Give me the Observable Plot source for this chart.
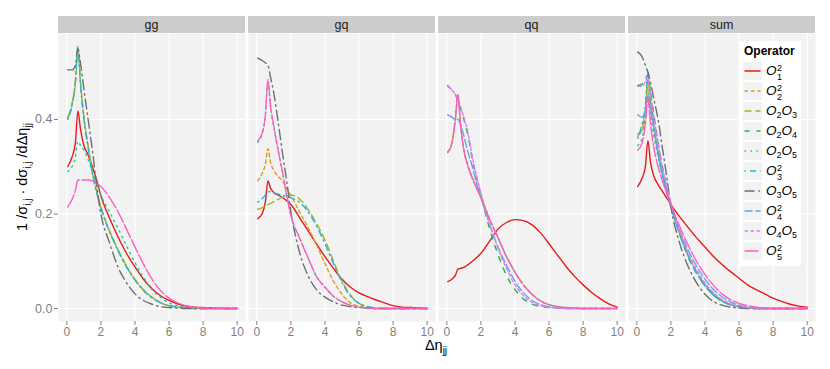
<!DOCTYPE html>
<html><head><meta charset="utf-8">
<script src="https://cdn.jsdelivr.net/npm/d3@7"></script>
<script src="https://cdn.jsdelivr.net/npm/@observablehq/plot@0.6"></script>
<style>
body{margin:0;background:#fff;font-family:"Liberation Sans",Arial,sans-serif;}
#wrap{position:relative;width:830px;height:369px;}
#legend{position:absolute;left:739px;top:41px;width:62px;height:225px;background:#fff;}
#legend .title{position:absolute;left:5px;top:3px;font-size:12px;font-weight:bold;color:#000;}
#legend .key{position:absolute;left:4px;width:19px;height:18px;background:#F2F2F2;}
#legend .lab{position:absolute;left:27px;font-size:13.5px;line-height:18px;white-space:nowrap;color:#000;}
.ss{display:inline-block;vertical-align:-5px;font-size:9px;line-height:8.5px;margin-left:0.5px;}
.ss span{display:block;}
.lab sub{font-size:9px;vertical-align:-3px;line-height:0;}
</style></head><body><div id="wrap"></div><script>
// ---- data ----
const facets = ["gg", "gq", "qq", "sum"];
const operators = ["O1O1", "O2O2", "O2O3", "O2O4", "O2O5", "O3O3", "O3O5", "O4O4", "O4O5", "O5O5"];
const xs = [0.05,0.3,0.5,0.65,0.8,1,1.25,1.5,1.75,2,2.5,3,3.5,4,4.5,5,5.5,6,6.5,7,7.5,8,8.5,9,9.5,10];
const xTicks = [0, 2, 4, 6, 8, 10];
const yTicks = [0, 0.2, 0.4];

// gg
const gg_O1O1 = [0.30,0.32,0.35,0.418,0.38,0.345,0.325,0.30,0.272,0.238,0.192,0.152,0.117,0.088,0.062,0.042,0.027,0.017,0.01,0.005,0.003,0.002,0.001,0.0005,0,0];
const gg_O2O2 = [0.402,0.43,0.476,0.548,0.478,0.405,0.343,0.288,0.247,0.214,0.164,0.124,0.089,0.061,0.039,0.023,0.012,0.006,0.003,0.001,0,0,0,0,0,0];
const gg_O2O3 = [0.405,0.433,0.478,0.55,0.48,0.406,0.344,0.289,0.248,0.215,0.165,0.125,0.09,0.062,0.04,0.024,0.013,0.006,0.003,0.001,0,0,0,0,0,0];
const gg_O2O5 = [0.29,0.30,0.32,0.354,0.345,0.335,0.315,0.29,0.265,0.24,0.205,0.17,0.133,0.097,0.066,0.04,0.024,0.012,0.006,0.003,0.001,0,0,0,0,0];
const gg_O3O3 = [0.40,0.43,0.48,0.555,0.475,0.40,0.34,0.285,0.245,0.213,0.163,0.123,0.088,0.06,0.038,0.023,0.012,0.006,0.003,0.001,0,0,0,0,0,0];
const gg_O3O5 = [0.505,0.505,0.515,0.55,0.52,0.465,0.40,0.335,0.26,0.2,0.14,0.088,0.055,0.031,0.017,0.009,0.004,0.002,0.001,0,0,0,0,0,0,0];
const gg_O5O5 = [0.215,0.23,0.25,0.272,0.272,0.272,0.272,0.27,0.265,0.258,0.235,0.205,0.168,0.13,0.094,0.062,0.038,0.022,0.012,0.006,0.003,0.001,0,0,0,0];
// gq
const gq_O1O1 = [0.19,0.2,0.225,0.27,0.255,0.245,0.24,0.235,0.228,0.22,0.193,0.165,0.137,0.11,0.085,0.062,0.045,0.033,0.025,0.018,0.012,0.006,0.003,0.002,0.001,0];
const gq_O2O2 = [0.27,0.285,0.305,0.338,0.31,0.292,0.28,0.27,0.255,0.24,0.205,0.172,0.135,0.095,0.058,0.03,0.012,0.005,0.002,0,0,0,0,0,0,0];
const gq_O2O3 = [0.21,0.213,0.217,0.22,0.222,0.226,0.231,0.235,0.238,0.24,0.232,0.21,0.18,0.145,0.1,0.058,0.028,0.011,0.004,0.001,0,0,0,0,0,0];
const gq_O2O5 = [0.352,0.368,0.408,0.478,0.428,0.383,0.334,0.29,0.24,0.197,0.15,0.108,0.068,0.045,0.026,0.014,0.007,0.003,0.001,0,0,0,0,0,0,0];
const gq_O3O3 = [0.225,0.232,0.24,0.247,0.247,0.245,0.242,0.24,0.237,0.234,0.225,0.205,0.175,0.137,0.095,0.055,0.026,0.011,0.004,0.001,0,0,0,0,0,0];
const gq_O3O5 = [0.53,0.525,0.52,0.515,0.49,0.455,0.395,0.33,0.27,0.205,0.12,0.07,0.04,0.024,0.014,0.007,0.004,0.002,0.001,0,0,0,0,0,0,0];
const gq_O5O5 = [0.355,0.37,0.41,0.485,0.43,0.385,0.335,0.29,0.24,0.197,0.15,0.108,0.068,0.045,0.026,0.014,0.007,0.003,0.001,0,0,0,0,0,0,0];
// qq
const qq_O1O1 = [0.057,0.062,0.07,0.083,0.085,0.087,0.093,0.1,0.108,0.117,0.142,0.168,0.182,0.188,0.186,0.177,0.16,0.137,0.113,0.089,0.068,0.05,0.034,0.021,0.01,0.003];
const qq_O2O2 = [0.332,0.352,0.402,0.45,0.39,0.337,0.302,0.277,0.256,0.236,0.19,0.15,0.11,0.077,0.05,0.03,0.016,0.008,0.004,0.002,0.001,0,0,0,0,0];
const qq_O2O4 = [0.472,0.462,0.453,0.44,0.425,0.40,0.365,0.315,0.275,0.24,0.17,0.115,0.07,0.04,0.02,0.009,0.004,0.002,0.001,0,0,0,0,0,0,0];
const qq_O2O5 = [0.33,0.35,0.40,0.452,0.39,0.336,0.30,0.276,0.255,0.235,0.19,0.15,0.11,0.077,0.05,0.03,0.016,0.008,0.004,0.002,0.001,0,0,0,0,0];
const qq_O4O4 = [0.41,0.405,0.40,0.40,0.39,0.365,0.33,0.30,0.265,0.235,0.18,0.13,0.092,0.058,0.033,0.017,0.008,0.003,0.001,0,0,0,0,0,0,0];
const qq_O4O5 = [0.47,0.462,0.453,0.44,0.427,0.405,0.37,0.32,0.28,0.245,0.18,0.128,0.085,0.05,0.027,0.013,0.006,0.003,0.001,0,0,0,0,0,0,0];
const qq_O5O5 = [0.33,0.35,0.40,0.453,0.39,0.335,0.30,0.275,0.255,0.235,0.19,0.15,0.11,0.077,0.05,0.03,0.016,0.008,0.004,0.002,0.001,0,0,0,0,0];
// sum
const sum_O1O1 = [0.258,0.275,0.3,0.355,0.31,0.28,0.262,0.248,0.234,0.22,0.195,0.172,0.15,0.13,0.11,0.093,0.078,0.064,0.05,0.04,0.031,0.022,0.015,0.009,0.005,0.003];
const sum_O2O2 = [0.37,0.375,0.41,0.475,0.43,0.38,0.325,0.283,0.247,0.215,0.16,0.115,0.078,0.05,0.03,0.016,0.008,0.004,0.001,0,0,0,0,0,0,0];
const sum_O2O3 = [0.365,0.38,0.42,0.485,0.44,0.385,0.33,0.285,0.248,0.215,0.16,0.114,0.078,0.05,0.03,0.016,0.008,0.004,0.001,0,0,0,0,0,0,0];
const sum_O2O4 = [0.472,0.475,0.485,0.495,0.46,0.41,0.35,0.3,0.258,0.222,0.16,0.11,0.075,0.048,0.028,0.016,0.008,0.004,0.002,0.001,0,0,0,0,0,0];
const sum_O2O5 = [0.345,0.36,0.40,0.455,0.41,0.365,0.32,0.28,0.245,0.215,0.162,0.118,0.082,0.054,0.033,0.018,0.009,0.004,0.002,0,0,0,0,0,0,0];
const sum_O3O3 = [0.36,0.39,0.43,0.5,0.45,0.39,0.33,0.285,0.248,0.215,0.158,0.112,0.075,0.048,0.028,0.015,0.008,0.003,0.001,0,0,0,0,0,0,0];
const sum_O3O5 = [0.543,0.533,0.515,0.5,0.478,0.443,0.4,0.34,0.28,0.215,0.14,0.09,0.055,0.03,0.015,0.007,0.003,0.001,0,0,0,0,0,0,0,0];
const sum_O4O4 = [0.41,0.405,0.42,0.45,0.42,0.38,0.33,0.29,0.255,0.222,0.168,0.125,0.09,0.062,0.04,0.025,0.014,0.007,0.003,0.002,0.001,0,0,0,0,0];
const sum_O4O5 = [0.47,0.47,0.48,0.49,0.455,0.405,0.35,0.3,0.26,0.225,0.165,0.117,0.08,0.053,0.033,0.019,0.01,0.005,0.002,0.001,0,0,0,0,0,0];
const sum_O5O5 = [0.335,0.35,0.39,0.445,0.39,0.34,0.3,0.27,0.245,0.22,0.175,0.135,0.1,0.072,0.049,0.031,0.019,0.011,0.006,0.003,0.001,0,0,0,0,0];

const series = {
  gg: {O1O1: gg_O1O1, O2O2: gg_O2O2, O2O3: gg_O2O3, O2O5: gg_O2O5, O3O3: gg_O3O3, O3O5: gg_O3O5, O5O5: gg_O5O5},
  gq: {O1O1: gq_O1O1, O2O2: gq_O2O2, O2O3: gq_O2O3, O2O5: gq_O2O5, O3O3: gq_O3O3, O3O5: gq_O3O5, O5O5: gq_O5O5},
  qq: {O1O1: qq_O1O1, O2O2: qq_O2O2, O2O4: qq_O2O4, O2O5: qq_O2O5, O4O4: qq_O4O4, O4O5: qq_O4O5, O5O5: qq_O5O5},
  sum: {O1O1: sum_O1O1, O2O2: sum_O2O2, O2O3: sum_O2O3, O2O4: sum_O2O4, O2O5: sum_O2O5, O3O3: sum_O3O3, O3O5: sum_O3O5, O4O4: sum_O4O4, O4O5: sum_O4O5, O5O5: sum_O5O5}
};

// ---- styles ----
const styles = {
  O1O1: {color: "#E41A1C", dash: null},
  O2O2: {color: "#D99E1E", dash: "3.5,3"},
  O2O3: {color: "#A6B21A", dash: "7,4"},
  O2O4: {color: "#1FB947", dash: "5,7"},
  O2O5: {color: "#1DC6A3", dash: "1.5,4.5"},
  O3O3: {color: "#1BB8E4", dash: "1.5,4,6,4"},
  O3O5: {color: "#6E6E6E", dash: "10,4,1.5,4"},
  O4O4: {color: "#6D9CF6", dash: "8,3"},
  O4O5: {color: "#DE7CF6", dash: "3.5,2.5"},
  O5O5: {color: "#FF5EBF", dash: "14,2.5"}
};
const legendLabels = {
  O1O1: '<i>O</i><span class="ss"><span>2</span><span>1</span></span>',
  O2O2: '<i>O</i><span class="ss"><span>2</span><span>2</span></span>',
  O2O3: '<i>O</i><sub>2</sub><i>O</i><sub>3</sub>',
  O2O4: '<i>O</i><sub>2</sub><i>O</i><sub>4</sub>',
  O2O5: '<i>O</i><sub>2</sub><i>O</i><sub>5</sub>',
  O3O3: '<i>O</i><span class="ss"><span>2</span><span>3</span></span>',
  O3O5: '<i>O</i><sub>3</sub><i>O</i><sub>5</sub>',
  O4O4: '<i>O</i><span class="ss"><span>2</span><span>4</span></span>',
  O4O5: '<i>O</i><sub>4</sub><i>O</i><sub>5</sub>',
  O5O5: '<i>O</i><span class="ss"><span>2</span><span>5</span></span>'
};

// ---- table ----
const table = [];
for (const f of facets) {
  for (const op of operators) {
    const arr = series[f][op];
    if (!arr) continue;
    arr.forEach((v, i) => table.push({facet: f, op, x: xs[i], y: v}));
  }
}

const font = "Liberation Sans, Arial, sans-serif";
const plot = Plot.plot({
  width: 830, height: 369,
  marginLeft: 57, marginRight: 15, marginTop: 33, marginBottom: 48,
  style: {fontFamily: font, background: "white", overflow: "visible"},
  fx: {domain: facets, paddingInner: 0.0168, paddingOuter: 0, axis: null, label: null},
  x: {domain: [-0.49, 10.49], label: null},
  y: {domain: [-0.0275, 0.582], label: null},
  marks: [
    Plot.frame({fill: "#F2F2F2", stroke: null}),
    Plot.gridX(xTicks, {stroke: "white", strokeOpacity: 1, strokeWidth: 1.2}),
    Plot.gridY(yTicks, {stroke: "white", strokeOpacity: 1, strokeWidth: 1.2}),
    ...operators.map(op => Plot.line(table.filter(d => d.op === op), {
      x: "x", y: "y", fx: "facet",
      stroke: styles[op].color, strokeWidth: 1.4,
      strokeDasharray: styles[op].dash || undefined,
      curve: "monotone-x"
    })),
    Plot.axisX(xTicks, {tickSize: 4, tickPadding: 2, stroke: "#7F7F7F", fill: "#7F7F7F", fontSize: 12, label: null}),
    Plot.axisY(yTicks, {tickSize: 4, tickPadding: 2, stroke: "#7F7F7F", fill: "#7F7F7F", fontSize: 12.5, tickFormat: d3.format(".1f"), label: null})
  ]
});

const wrap = document.getElementById("wrap");
wrap.appendChild(plot);

// strips
const svg = d3.select(plot);
const fxs = plot.scale("fx");
const g = svg.append("g");
for (const f of facets) {
  const x0 = fxs.apply(f);
  g.append("rect").attr("x", x0).attr("y", 16).attr("width", fxs.bandwidth).attr("height", 17).attr("fill", "#CCCCCC");
  g.append("text").attr("x", x0 + fxs.bandwidth / 2).attr("y", 24.5).attr("dy", "0.35em")
    .attr("text-anchor", "middle").attr("font-size", 12.5).attr("fill", "#1A1A1A").attr("font-family", font).text(f);
}

// axis titles
const yl = svg.append("text").attr("transform", "translate(27,177) rotate(-90)")
  .attr("text-anchor", "middle").attr("font-size", 14.5).attr("font-family", font).attr("fill", "#000");
const parts = [["1 /σ", 0], ["i,j", 1], [" · dσ", 0], ["i,j", 1], [" /dΔη", 0], ["jj", 1]];
let shifted = false;
for (const [t, sub] of parts) {
  const ts = yl.append("tspan").text(t);
  if (sub) { ts.attr("font-size", 10).attr("dy", 4); shifted = true; }
  else if (shifted) { ts.attr("dy", -4); shifted = false; }
}
const xl = svg.append("text").attr("x", 436).attr("y", 350).attr("text-anchor", "middle")
  .attr("font-size", 14.5).attr("font-family", font).attr("fill", "#000");
xl.append("tspan").text("Δη");
xl.append("tspan").text("jj").attr("font-size", 10).attr("dy", 4);

// legend
const leg = document.createElement("div");
leg.id = "legend";
let html = '<div class="title">Operator</div>';
operators.forEach((op, i) => {
  const top = 20.5 + 20 * i;
  const s = styles[op];
  html += `<div class="key" style="top:${top}px"><svg width="19" height="18"><line x1="1.5" x2="17.5" y1="9" y2="9" stroke="${s.color}" stroke-width="1.5" ${s.dash ? `stroke-dasharray="${s.dash}"` : ""}/></svg></div>`;
  html += `<div class="lab" style="top:${top}px">${legendLabels[op]}</div>`;
});
leg.innerHTML = html;
wrap.appendChild(leg);
</script></body></html>
